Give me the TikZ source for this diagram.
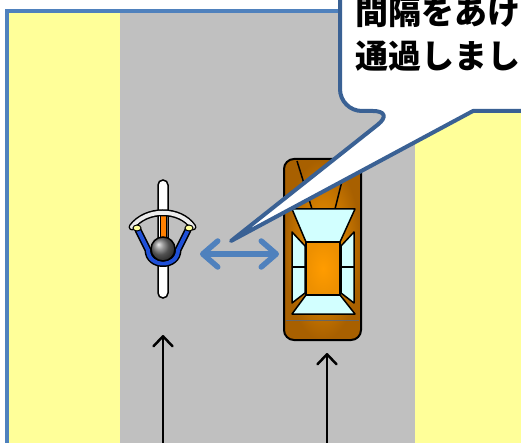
\documentclass[tikz,border=0pt]{standalone}
\usepackage{fontspec}
\newfontfamily\jpfont{Noto Sans CJK JP}
\usetikzlibrary{arrows.meta}

\definecolor{road}{HTML}{C0C0C0}
\definecolor{verge}{HTML}{FFFF99}
\definecolor{frameblue}{HTML}{4F81BD}
\definecolor{calloutblue}{HTML}{3A6194}
\definecolor{bikeblue}{HTML}{1F50D8}
\definecolor{carbody}{HTML}{A86000}
\definecolor{carroof}{HTML}{FF9C00}
\definecolor{glass}{HTML}{D2FFFF}

\begin{document}
\begin{tikzpicture}[
        x=1pt, y=-1pt,
        gap arrow/.style={
            draw=frameblue,
            line width=5.5pt,
            line cap=round,
            {Straight Barb[round,length=15pt,width=26pt]}-{Straight Barb[round,length=15pt,width=26pt]}
        },
        lane arrow/.style={
            line width=2.5pt,
            -{Straight Barb[round,length=10pt,width=19pt,line width=2.5pt]}
        },
        window/.style={
            fill=glass,
            draw=black,
            line width=1.5pt,
            line join=round
        },
        msg/.style={
            anchor=base west,
            inner sep=0pt,
            font=\jpfont\bfseries\fontsize{33}{40}\selectfont
        }
    ]

    \clip (0,0) rectangle (521,443);

    % verges, road and frame
    \fill[verge] (7,11) rectangle (540,460);
    \fill[road] (120,11) rectangle (415,460);
    \draw[frameblue, line width=4pt] (540,11) -- (7,11) -- (7,460);

    % lanes
    \coordinate (bike lane start) at (163,460);
    \coordinate (bike lane end) at (163,335);
    \coordinate (car lane start) at (327,460);
    \coordinate (car lane end) at (327,353);
    \draw[lane arrow] (bike lane start) -- (bike lane end);
    \draw[lane arrow] (car lane start) -- (car lane end);

    % bicycle
    \draw[line width=1.5pt, fill=white, rounded corners=5pt] (158,180) rectangle (168,298);
    \draw[line width=1pt, fill=orange] (160,214) rectangle (166,240);
    \draw[line width=7pt, line cap=round] (132,227) .. controls (146,208) and (180,208) .. (193,227);
    \draw[line width=4pt, line cap=round, white!85!gray] (132,227) .. controls (146,208) and (180,208) .. (193,227);
    \draw[line width=7pt, line cap=round, line join=round]
        (138,230) -- (148,250) .. controls (148,268) and (178,268) .. (178,250) -- (188,230);
    \draw[line width=4pt, line cap=round, line join=round, bikeblue]
        (138,230) -- (148,250) .. controls (148,268) and (178,268) .. (178,250) -- (188,230);
    \draw[line width=1pt, fill=verge] (137,228) ellipse (4 and 3);
    \draw[line width=1pt, fill=verge] (189,228) ellipse (4 and 3);
    \draw[line width=1.5pt, ball color=black!55] (163,249) circle (12);
    \coordinate (bike) at (163,249);

    % car
    \draw[line width=2pt, rounded corners=10pt, inner color=carroof, outer color=carbody]
        (284,159) rectangle (361,340);
    \draw[line width=1.5pt] (297,161) -- (312,209);
    \draw[line width=1.5pt] (347,161) -- (335,209);
    \draw[line width=2pt, inner color=carroof, outer color=carroof!80!carbody]
        (306,242) rectangle (340,295);
    \draw[window] (292,209) -- (355,209) -- (340,242) -- (306,242) -- cycle;
    \draw[window] (306,295) -- (340,295) -- (355,314) -- (292,314) -- cycle;
    \draw[window] (292,232) -- (305,246) -- (305,293) -- (292,303) -- cycle;
    \draw[window] (354,232) -- (341,246) -- (341,293) -- (354,303) -- cycle;
    \draw[line width=1.5pt] (292,267) -- (305,267);
    \draw[line width=1.5pt] (341,267) -- (354,267);
    \draw[line width=1pt, black!60] (286,320) -- (359,320);
    \coordinate (car) at (322,249);

    % distance kept between them
    \coordinate (gap west) at (200,254);
    \coordinate (gap east) at (279,254);
    \draw[gap arrow] (gap west) -- (gap east);

    % speech balloon
    \coordinate (balloon tip) at (231,241);
    \draw[calloutblue, fill=white, line width=4pt, line join=round]
        (340,-30) [rounded corners=22pt] -- (340,111) -- (395,111)
        [sharp corners] -- (balloon tip) -- (473,111) -- (545,111) -- (545,-30) -- cycle;
    \node[msg] (msg top) at (355,25) {間隔をあけて};
    \node[msg] (msg bottom) at (355,69) {通過しましょう};

\end{tikzpicture}
\end{document}
